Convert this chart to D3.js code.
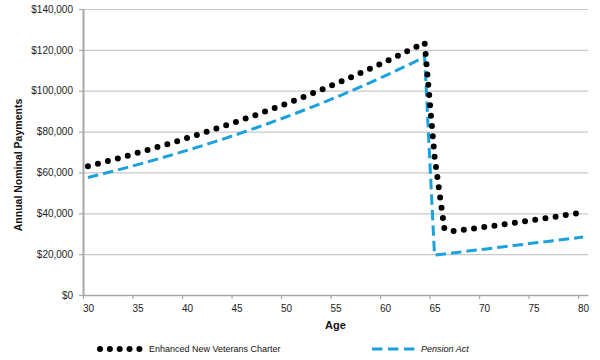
<!DOCTYPE html>
<html>
<head>
<meta charset="utf-8">
<script src="https://cdn.jsdelivr.net/npm/d3@7"></script>
<style>
  html, body { margin: 0; padding: 0; background: #fff; }
  svg { display: block; font-family: "Liberation Sans", Arial, sans-serif; }
</style>
</head>
<body>
<svg id="chart" width="600" height="360"></svg>
<script>
// ---- Data ----
const ages = d3.range(30, 81);
const nvcValues = [
  63000, 64260, 65545, 66856, 68193, 69557, 70948, 72367, 73815, 75291,
  76797, 78333, 79899, 81497, 83127, 84790, 86486, 88215, 89980, 91779,
  93615, 95487, 97397, 99345, 101332, 103358, 105425, 107534, 109685, 111878,
  114116, 116398, 118726, 121101, 123523,
  68000, 32300, 31300, 31926, 32565, 33216, 33880, 34558, 35249, 35954,
  36673, 37407, 38155, 38918, 39696, 40490
];
const pensionValues = [
  57500, 58708, 59940, 61199, 62485, 63797, 65137, 66504, 67901, 69327,
  70783, 72269, 73787, 75336, 76918, 78534, 80183, 81867, 83586, 85341,
  87133, 88963, 90831, 92739, 94686, 96675, 98705, 100778, 102894, 105055,
  107261, 109513, 111813, 114161, 116559,
  19500, 20090, 20680, 21270, 21860, 22450, 23040, 23630, 24220, 24810,
  25400, 25990, 26580, 27170, 27760, 28350
];
const xTickLabels = [30, 35, 40, 45, 50, 55, 60, 65, 70, 75, 80];
const yTickValues = [0, 20000, 40000, 60000, 80000, 100000, 120000, 140000];
const seriesNames = ["Enhanced New Veterans Charter", "Pension Act"];

// ---- Layout ----
const svg = d3.select("#chart");
const plotLeft = 83, plotRight = 588, plotTop = 9, plotBottom = 295;

const x = d3.scaleLinear().domain([29.5, 80.5]).range([plotLeft, plotRight]);
const y = d3.scaleLinear().domain([0, 140000]).range([plotBottom, plotTop]);

const axisColor = "#a6a6a6";
const gridColor = "#c8c8c8";

// gridlines
svg.append("g")
  .attr("transform", `translate(${plotLeft},0)`)
  .call(d3.axisLeft(y).tickValues(yTickValues.slice(1)).tickSize(-(plotRight - plotLeft)).tickFormat(""))
  .call(g => g.select(".domain").remove())
  .call(g => g.selectAll("line").attr("stroke", gridColor).attr("stroke-width", 1.2));

// x axis: tick marks at category boundaries
const boundaries = xTickLabels.map(a => a - 0.5);
svg.append("g")
  .attr("transform", `translate(0,${plotBottom})`)
  .call(d3.axisBottom(x).tickValues(boundaries).tickSizeInner(4).tickSizeOuter(0).tickFormat(""))
  .call(g => g.select(".domain").attr("stroke", axisColor).attr("stroke-width", 1.5))
  .call(g => g.selectAll(".tick line").attr("stroke", axisColor).attr("stroke-width", 1.2));

// x axis labels at category centres
svg.append("g")
  .attr("transform", `translate(0,${plotBottom})`)
  .call(d3.axisBottom(x).tickValues(xTickLabels).tickSize(0).tickPadding(10).tickFormat(d3.format("d")))
  .call(g => g.select(".domain").remove())
  .call(g => g.selectAll("text").attr("font-size", 10).attr("fill", "#222")
    .attr("font-family", "'Liberation Sans', Arial, sans-serif"));

// y axis
svg.append("g")
  .attr("transform", `translate(${plotLeft},0)`)
  .call(d3.axisLeft(y).tickValues(yTickValues).tickSizeInner(4).tickSizeOuter(0).tickPadding(6).tickFormat(d3.format("$,")))
  .call(g => g.select(".domain").attr("stroke", axisColor).attr("stroke-width", 2))
  .call(g => g.selectAll(".tick line").attr("stroke", axisColor).attr("stroke-width", 1.2))
  .call(g => g.selectAll("text").attr("font-size", 10).attr("fill", "#222")
    .attr("font-family", "'Liberation Sans', Arial, sans-serif"));

// axis titles
svg.append("text")
  .attr("x", (plotLeft + plotRight) / 2).attr("y", 329)
  .attr("text-anchor", "middle")
  .attr("font-size", 11).attr("font-weight", "bold").attr("fill", "#111")
  .text("Age");

svg.append("text")
  .attr("transform", `translate(22,165) rotate(-90)`)
  .attr("text-anchor", "middle")
  .attr("font-size", 10.5).attr("font-weight", "bold").attr("fill", "#111")
  .text("Annual Nominal Payments");

// ---- Series ----
const blue = "#1ba1dc";
const line = d3.line().x(d => x(d[0])).y(d => y(d[1]));

svg.append("path")
  .datum(ages.map((a, i) => [a, pensionValues[i]]))
  .attr("d", line)
  .attr("fill", "none")
  .attr("stroke", blue)
  .attr("stroke-width", 3)
  .attr("stroke-dasharray", "10.5,5");

svg.append("path")
  .datum(ages.map((a, i) => [a, nvcValues[i]]))
  .attr("d", line)
  .attr("fill", "none")
  .attr("stroke", "#000")
  .attr("stroke-width", 6)
  .attr("stroke-linecap", "round")
  .attr("stroke-dasharray", "0,10.3");

// ---- Legend ----
const ly = 349;
svg.append("g").selectAll("circle")
  .data(d3.range(5))
  .join("circle")
  .attr("cx", i => 100 + i * 9.85)
  .attr("cy", ly)
  .attr("r", 3)
  .attr("fill", "#000");
svg.append("text")
  .attr("x", 149).attr("y", ly + 3.2)
  .attr("font-size", 9).attr("fill", "#111")
  .text(seriesNames[0]);

svg.append("line")
  .attr("x1", 372).attr("x2", 415).attr("y1", ly).attr("y2", ly)
  .attr("stroke", blue).attr("stroke-width", 3)
  .attr("stroke-dasharray", "10.5,5.5");
svg.append("text")
  .attr("x", 421).attr("y", ly + 3.2)
  .attr("font-size", 9).attr("font-style", "italic").attr("fill", "#111")
  .text(seriesNames[1]);
</script>
</body>
</html>
